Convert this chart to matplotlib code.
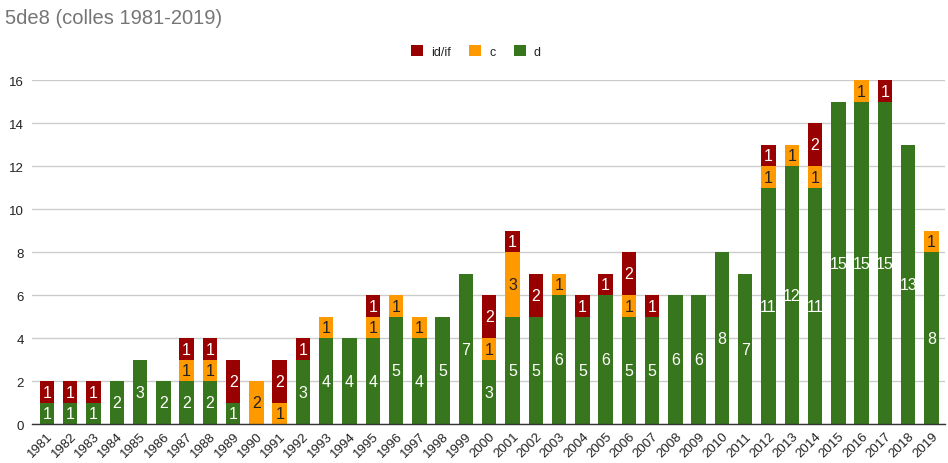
import matplotlib
matplotlib.use("Agg")
import matplotlib.pyplot as plt
import numpy as np

years = [str(y) for y in range(1981, 2020)]
d_vals = [1, 1, 1, 2, 3, 2, 2, 2, 1, 0, 0, 3, 4, 4, 4, 5, 4, 5, 7, 3,
          5, 5, 6, 5, 6, 5, 5, 6, 6, 8, 7, 11, 12, 11, 15, 15, 15, 13, 8]
c_vals = [0, 0, 0, 0, 0, 0, 1, 1, 0, 2, 1, 0, 1, 0, 1, 1, 1, 0, 0, 1,
          3, 0, 1, 0, 0, 1, 0, 0, 0, 0, 0, 1, 1, 1, 0, 1, 0, 0, 1]
id_vals = [1, 1, 1, 0, 0, 0, 1, 1, 2, 0, 2, 1, 0, 0, 1, 0, 0, 0, 0, 2,
           1, 2, 0, 1, 1, 2, 1, 0, 0, 0, 0, 1, 0, 2, 0, 0, 1, 0, 0]
yticks = [0, 2, 4, 6, 8, 10, 12, 14, 16]

GREEN = "#38761d"
ORANGE = "#ff9900"
RED = "#990000"

plt.rcParams["font.family"] = ["Liberation Sans", "DejaVu Sans"]

fig = plt.figure(figsize=(9.48, 4.64), dpi=100)
ax = fig.add_axes([32 / 948, 1 - 425.3 / 464, (945 - 32) / 948, (425.3 - 81.3) / 464])

x = np.arange(len(years))
w = 0.62
d = np.array(d_vals)
c = np.array(c_vals)
i = np.array(id_vals)

series = [("d", d, np.zeros_like(d), GREEN, "white"),
          ("c", c, d, ORANGE, "#222222"),
          ("id/if", i, d + c, RED, "white")]
handles = {}
for name, vals, bottom, col, tcol in series:
    bars = ax.bar(x, vals, w, bottom=bottom, color=col, zorder=3, linewidth=0)
    handles[name] = bars
    for xi, v, b in zip(x, vals, bottom):
        if v > 0:
            ax.text(xi, b + v / 2, str(v), ha="center", va="center",
                    color=tcol, fontsize=11.5, zorder=4)

ax.set_xlim(-0.64, len(years) - 1 + 0.58)
ax.set_ylim(0, 16)
ax.set_yticks(yticks)
ax.set_yticklabels([str(t) for t in yticks], fontsize=9.5, color="#222222")
ax.set_xticks(x)
ax.set_xticklabels(years, rotation=45, ha="right", rotation_mode="anchor",
                   fontsize=9.5, color="#222222")
ax.tick_params(axis="y", length=0, pad=6)
ax.tick_params(axis="x", length=0, pad=4)
ax.grid(axis="y", color="#cccccc", linewidth=1, zorder=0)
for s in ["top", "right", "left"]:
    ax.spines[s].set_visible(False)
ax.spines["bottom"].set_color("#333333")
ax.spines["bottom"].set_linewidth(1)
ax.spines["bottom"].set_zorder(5)

fig.text(5 / 948, 1 - 18 / 464, "5de8 (colles 1981-2019)", fontsize=14.5,
         color="#757575", ha="left", va="center")

leg = fig.legend([handles["id/if"], handles["c"], handles["d"]],
                 ["id/if", "c", "d"], loc="center", ncol=3,
                 bbox_to_anchor=(476 / 948, 1 - 52.5 / 464), frameon=False,
                 fontsize=9, handlelength=0.95, handleheight=0.95,
                 handletextpad=0.65, columnspacing=1.45)
for t in leg.get_texts():
    t.set_color("#222222")

fig.savefig("out.png", dpi=100)
